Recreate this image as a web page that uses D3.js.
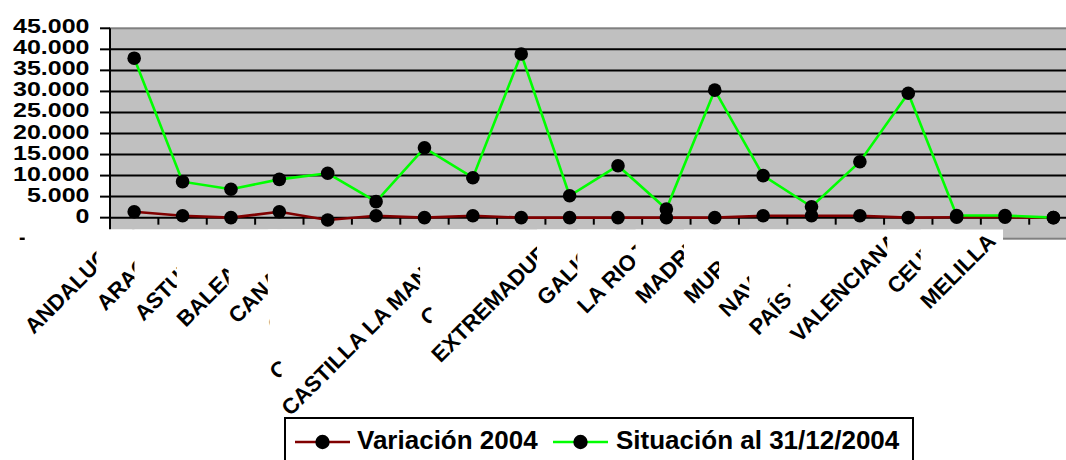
<!DOCTYPE html>
<html>
<head>
<meta charset="utf-8">
<script src="https://cdn.jsdelivr.net/npm/d3@7"></script>
<style>
  html, body { margin: 0; padding: 0; background: #fff; }
  svg { display: block; font-family: Arial, "Liberation Sans", sans-serif; font-weight: bold; }
</style>
</head>
<body>
<svg id="chart" width="1066" height="460"></svg>
<script>
// ---- data ----
const categories = ["ANDALUCÍA", "ARAGÓN", "ASTURIAS", "BALEARES", "CANARIAS", "CANTABRIA",
  "CASTILLA Y LEÓN", "CASTILLA LA MANCHA", "CATALUÑA", "EXTREMADURA", "GALICIA", "LA RIOJA",
  "MADRID", "MURCIA", "NAVARRA", "PAÍS VASCO", "VALENCIANA", "CEUTA", "MELILLA", ""];
const variacion2004 = [1400, 450, 0, 1400, -550, 450, 0, 450, 0, 0, 0, 0, 0, 450, 450, 450, 0, 100, 100, 0];
const situacion2004 = [37900, 8550, 6750, 9100, 10550, 3800, 16600, 9500, 38900, 5200, 12350, 2050,
  30300, 10000, 2600, 13300, 29550, 500, 500, 0];
const yTicks = [-5000, 0, 5000, 10000, 15000, 20000, 25000, 30000, 35000, 40000, 45000];
const seriesNames = ["Variación 2004", "Situación al 31/12/2004"];
const seriesColors = ["#800000", "#00ff00"];

// ---- layout ----
const svg = d3.select("#chart");
const plotL = 110, plotT = 28.3, plotB = 238.7, step = 48.38;
const plotR = plotL + step * categories.length;

const x = d3.scaleBand().domain(d3.range(categories.length)).range([plotL, plotR]).padding(0);
const y = d3.scaleLinear().domain([-5000, 45000]).range([plotB, plotT]);
const cx = i => x(i) + x.bandwidth() / 2;

const loc = d3.formatLocale({decimal: ",", thousands: ".", grouping: [3], currency: ["", "€"], minus: "-"});
const fmt = loc.format(",.0f");

// plot area
svg.append("rect")
  .attr("x", plotL).attr("y", plotT)
  .attr("width", plotR - plotL).attr("height", plotB - plotT)
  .attr("fill", "#c0c0c0").attr("stroke", "#808080").attr("stroke-width", 2);

// gridlines
svg.append("g").selectAll("line")
  .data(yTicks.filter(v => v > 0 && v < 45000))
  .join("line")
  .attr("x1", plotL).attr("x2", plotR)
  .attr("y1", d => y(d)).attr("y2", d => y(d))
  .attr("stroke", "#000").attr("stroke-width", 2);

// y axis
const yAxis = svg.append("g");
yAxis.append("line").attr("x1", plotL).attr("x2", plotL).attr("y1", plotT).attr("y2", plotB)
  .attr("stroke", "#000").attr("stroke-width", 2);
yAxis.selectAll("line.tick").data(yTicks).join("line").attr("class", "tick")
  .attr("x1", plotL - 10).attr("x2", plotL)
  .attr("y1", d => y(d)).attr("y2", d => y(d))
  .attr("stroke", "#000").attr("stroke-width", 2);
yAxis.selectAll("text").data(yTicks).join("text")
  .attr("text-anchor", "end")
  .attr("font-size", 21)
  .attr("transform", d => `translate(89.5,${y(d) + 5}) scale(1.19,1)`)
  .text(d => fmt(d));

// x axis at zero
const xAxis = svg.append("g");
xAxis.append("line").attr("x1", plotL).attr("x2", plotR).attr("y1", y(0)).attr("y2", y(0))
  .attr("stroke", "#000").attr("stroke-width", 2);
xAxis.selectAll("line.tick").data(d3.range(1, categories.length + 1)).join("line").attr("class", "tick")
  .attr("x1", d => plotL + d * x.bandwidth()).attr("x2", d => plotL + d * x.bandwidth())
  .attr("y1", y(0)).attr("y2", y(0) + 7)
  .attr("stroke", "#000").attr("stroke-width", 2);

// series
const seriesData = [variacion2004, situacion2004];
const line = d3.line().x((d, i) => cx(i)).y(d => y(d));
seriesData.forEach((vals, s) => {
  const g = svg.append("g");
  g.append("path").datum(vals).attr("d", line)
    .attr("fill", "none").attr("stroke", seriesColors[s]).attr("stroke-width", 2.6);
  g.selectAll("circle").data(vals).join("circle")
    .attr("cx", (d, i) => cx(i)).attr("cy", d => y(d)).attr("r", 6.8).attr("fill", "#000");
});

// category labels, each with its own white background box (drawn in order)
const labelsG = svg.append("g");
const ay = 242.5, k = Math.SQRT1_2;
categories.forEach((name, i) => {
  if (!name) return;
  const ax = cx(i) - 8;
  const g = labelsG.append("g");
  const t = g.append("text")
    .attr("text-anchor", "end")
    .attr("font-size", 22)
    .attr("transform", `translate(${ax},${ay}) rotate(-45)`)
    .text(name);
  const w = t.node().getComputedTextLength();
  const left = ax - w * k - 9, right = ax + 6;
  g.insert("rect", "text")
    .attr("x", left).attr("y", 229.5)
    .attr("width", right - left).attr("height", ay + w * k + 6 - 229.5)
    .attr("fill", "#fff");
});

// legend
const lg = svg.append("g");
lg.append("rect").attr("x", 285).attr("y", 418).attr("width", 628).attr("height", 70)
  .attr("fill", "#fff").attr("stroke", "#000").attr("stroke-width", 2);
const legendItems = [{x0: 295, text: 357}, {x0: 553, text: 616}];
seriesNames.forEach((nm, s) => {
  const it = legendItems[s];
  lg.append("line").attr("x1", it.x0).attr("x2", it.x0 + 55).attr("y1", 442).attr("y2", 442)
    .attr("stroke", seriesColors[s]).attr("stroke-width", 2.5);
  lg.append("circle").attr("cx", it.x0 + 27.5).attr("cy", 442).attr("r", 7.2).attr("fill", "#000");
  lg.append("text").attr("x", it.text).attr("y", 449.3).attr("font-size", 26).text(nm);
});
</script>
</body>
</html>
